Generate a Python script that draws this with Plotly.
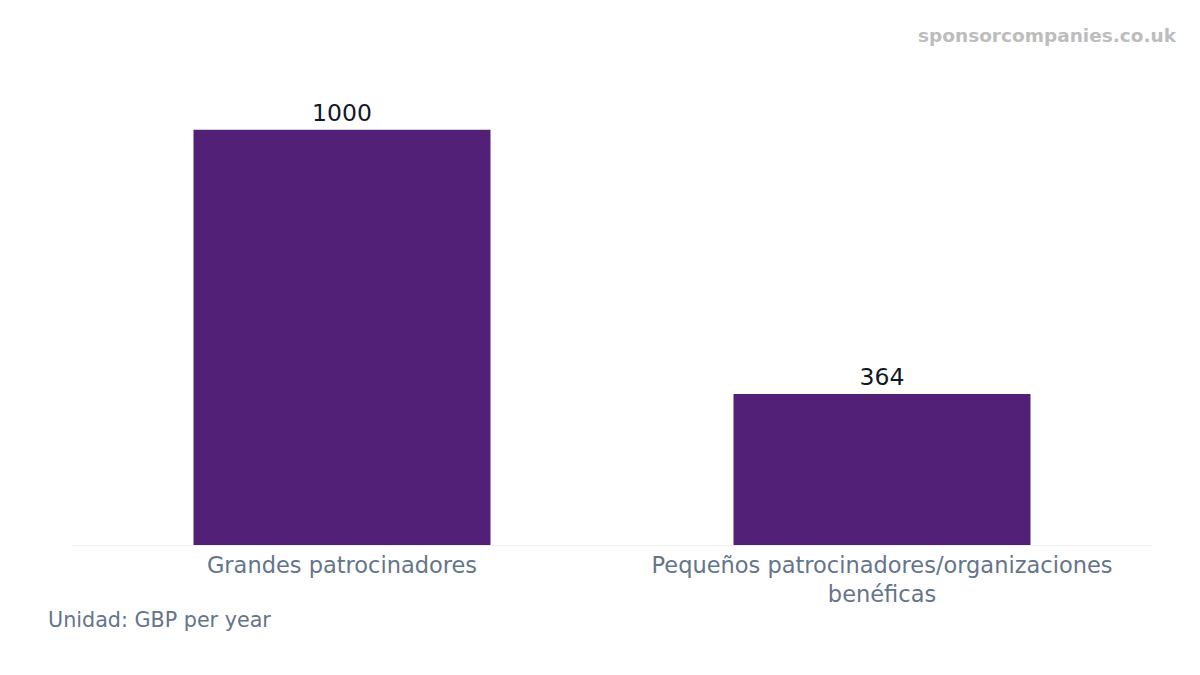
import plotly.graph_objects as go

categories = ["Grandes patrocinadores", "Pequeños patrocinadores/organizaciones<br>benéficas"]
values = [1000, 364]
value_labels = ["1000", "364"]

fig = go.Figure()

fig.add_trace(go.Bar(
    x=categories,
    y=values,
    text=value_labels,
    textposition="outside",
    textfont=dict(size=23.5, color="#111827"),
    marker=dict(color="#522076", line=dict(width=0)),
    cliponaxis=False,
    hoverinfo="skip",
))

fig.update_layout(
    width=1200, height=675,
    template="plotly_white",
    font=dict(family="DejaVu Sans, sans-serif"),
    paper_bgcolor="white",
    plot_bgcolor="white",
    bargap=0.45,
    showlegend=False,
    margin=dict(l=64, r=56, t=82, b=138),
    xaxis=dict(
        showgrid=False,
        showline=True,
        linecolor="#eeeeee",
        linewidth=1,
        ticks="",
        tickfont=dict(size=22.5, color="#64748b"),
    ),
    yaxis=dict(
        range=[0, 1096],
        visible=False,
        showgrid=False,
        zeroline=False,
    ),
    annotations=[
        dict(
            text="sponsorcompanies.co.uk",
            xref="paper", yref="paper",
            x=1.025, y=1.119, xanchor="right", yanchor="middle",
            showarrow=False,
            font=dict(size=18.5, color="#bdbdbd", family="DejaVu Sans, sans-serif", weight="bold"),
        ),
        dict(
            text="Unidad: GBP per year",
            xref="paper", yref="paper",
            x=-0.024, y=-0.165, xanchor="left", yanchor="middle",
            showarrow=False,
            font=dict(size=20.7, color="#64748b"),
        ),
    ],
)

fig.write_html("out.html")
